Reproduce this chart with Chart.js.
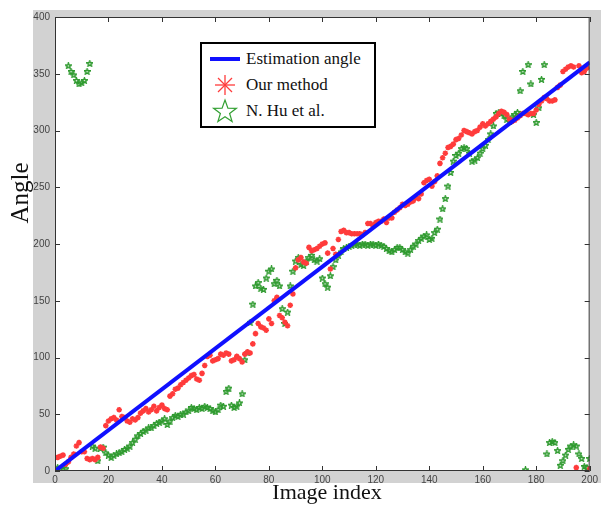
<!DOCTYPE html>
<html>
<head>
<meta charset="utf-8">
<script src="https://cdn.jsdelivr.net/npm/chart.js@4.4.0/dist/chart.umd.min.js"></script>
<style>
body { margin: 0; background: #fff; }
#wrap { position: relative; width: 601px; height: 512px; overflow: hidden; }
#frame { position: absolute; left: 33px; top: 10px; width: 568px; height: 473px; background: #d2d2d2; }
#chart { position: absolute; left: 0; top: 0; }
.ttl { position: absolute; font-family: "Liberation Serif", "Times New Roman", serif; color: #111; text-align: center; white-space: nowrap; }
#ytitle { left: -30px; top: 178px; width: 100px; height: 30px; line-height: 30px; font-size: 25px; transform: rotate(-90deg); }
#xtitle { left: 227px; top: 478px; width: 200px; height: 28px; line-height: 28px; font-size: 22px; }
#legend { position: absolute; left: 200px; top: 42px; width: 172px; height: 82px; border: 2px solid #000; background: #fff;
  font-family: "Liberation Serif", "Times New Roman", serif; font-size: 17px; color: #111; }
#legend div { position: absolute; left: 0; width: 172px; height: 26px; line-height: 26px; white-space: nowrap; }
#legend svg { position: absolute; left: 6px; top: 0; }
#legend span { position: absolute; left: 44px; top: 0; white-space: nowrap; }
</style>
</head>
<body>
<div id="wrap">
  <div id="frame"></div>
  <canvas id="chart" width="601" height="512"></canvas>
  <div class="ttl" id="ytitle">Angle</div>
  <div class="ttl" id="xtitle">Image index</div>
  <div id="legend">
    <div style="top:2px"><svg width="34" height="26"><line x1="2" y1="13" x2="32" y2="13" stroke="#1010ff" stroke-width="4"/></svg><span>Estimation angle</span></div>
    <div style="top:28px"><svg width="34" height="26"><g stroke="#ff3b3b" stroke-width="1.3"><line x1="17" y1="3" x2="17" y2="23"/><line x1="7" y1="13" x2="27" y2="13"/><line x1="10" y1="6" x2="24" y2="20"/><line x1="24" y1="6" x2="10" y2="20"/></g></svg><span>Our method</span></div>
    <div style="top:54px"><svg width="34" height="26"><polygon points="17,2 19.9,10.2 28.4,10.3 21.6,15.5 24.1,23.6 17,18.7 9.9,23.6 12.4,15.5 5.6,10.3 14.1,10.2" fill="none" stroke="#33a033" stroke-width="1.2"/></svg><span>N. Hu et al.</span></div>
  </div>
</div>
<script>
// image index 1..200
const imageIndex = Array.from({ length: 200 }, (_, i) => i + 1);

// blue reference line
const estIndex = [0, 200];
const estAngle = [0, 360];

// Our method (red)
const ourAngle = [
  12, 13, 14, 6, 8, 12, 15, 22, 25, 17,
  17, 11, 10, 11, 10, 12, 21, 20, 40, 44,
  46, 47, 45, 54, 48, 47, 44, 43, 46, 45,
  47, 51, 53, 55, 52, 54, 57, 53, 56, 58,
  55, 54, 66, 68, 72, 73, 76, 78, 80, 82,
  84, 85, 81, 80, 86, 93, 101, 102, 97, 98,
  99, 103, 102, 104, 103, 97, 98, 101, 99, 96,
  103, 105, 104, 112, 121, 130, 127, 126, 124, 134,
  130, 150, 153, 137, 135, 131, 128, 146, 156, 179,
  186, 188, 184, 183, 197, 194, 195, 196, 198, 200,
  201, 192, 178, 196, 191, 204, 211, 212, 210, 210,
  209, 209, 209, 209, 208, 210, 218, 218, 216, 219,
  220, 220, 222, 219, 223, 223, 228, 230, 232, 235,
  234, 235, 237, 238, 241, 240, 244, 254, 256, 257,
  251, 255, 260, 271, 276, 280, 285, 286, 288, 292,
  293, 296, 300, 299, 298, 297, 299, 300, 303, 306,
  304, 306, 308, 310, 312, 315, 317, 316, 314, 310,
  308, 309, 311, 313, 315, 315, 314, 315, 315, 318,
  323, 326, 329, 328, 326, 326, 327, 338, 340, 352,
  354, 356, 357, 356, 3, 357, 351, 352, 355, 2
];

// N. Hu et al. (green)
const huAngle = [
  3, 2, 4, 2, 357, 352, 349, 344, 341, 342,
  344, 352, 359, 22, 20, 9, 20, 21, 16, 14,
  12, 14, 15, 16, 17, 19, 20, 22, 25, 28,
  31, 33, 35, 36, 38, 38, 40, 42, 43, 44,
  46, 41, 44, 47, 49, 48, 50, 50, 52, 53,
  56, 55, 54, 56, 55, 57, 56, 55, 53, 52,
  54, 58, 57, 70, 73, 58, 56, 57, 60, 68,
  98, 104, 131, 147, 163, 166, 161, 160, 170, 176,
  178, 165, 168, 163, 143, 130, 140, 163, 176, 185,
  188, 182, 181, 185, 188, 190, 186, 185, 187, 170,
  165, 162, 172, 180, 186, 190, 193, 196, 197, 198,
  199, 200, 200, 199, 200, 200, 199, 200, 200, 199,
  200, 199, 198, 196, 194, 193, 195, 197, 197, 195,
  193, 192, 195, 198, 200, 203, 205, 207, 208, 204,
  205, 210, 213, 222, 231, 240, 251, 263, 273, 278,
  280, 284, 285, 284, 280, 273, 274, 276, 280, 284,
  287, 292, 297, 304, 315, 316, 315, 313, 310, 308,
  312, 314, 316, 335, 352, 1, 358, 341, 314, 307,
  320, 345, 358, 15, 25, 26, 25, 18, 5, 9,
  14, 19, 22, 23, 22, 15, 11, 4, 3, 11
];

const xTicks = [0, 20, 40, 60, 80, 100, 120, 140, 160, 180, 200];
const yTicks = [0, 50, 100, 150, 200, 250, 300, 350, 400];

// small outlined pentagram used as point marker
function starImage(color) {
  const c = document.createElement('canvas');
  c.width = 7; c.height = 7;
  const g = c.getContext('2d');
  g.strokeStyle = color;
  g.lineWidth = 1.4;
  g.beginPath();
  for (let k = 0; k < 10; k++) {
    const r = k % 2 ? 1.3 : 3;
    const a = -Math.PI / 2 + k * Math.PI / 5;
    const px = 3.5 + r * Math.cos(a), py = 3.7 + r * Math.sin(a);
    k ? g.lineTo(px, py) : g.moveTo(px, py);
  }
  g.closePath();
  g.stroke();
  return c;
}

const framePlugin = {
  id: 'framePlugin',
  beforeDraw(chart) {
    const a = chart.chartArea, ctx = chart.ctx;
    ctx.save();
    ctx.fillStyle = '#fff';
    ctx.fillRect(a.left, a.top, a.right - a.left, a.bottom - a.top);
    ctx.restore();
  },
  afterDraw(chart) {
    const a = chart.chartArea, ctx = chart.ctx;
    const xs = chart.scales.x, ys = chart.scales.y;
    ctx.save();
    ctx.strokeStyle = '#333';
    ctx.lineWidth = 1;
    ctx.strokeRect(a.left + 0.5, a.top + 0.5, a.right - a.left - 1, a.bottom - a.top - 1);
    ctx.beginPath();
    xTicks.forEach(v => {
      const p = Math.round(xs.getPixelForValue(v)) + 0.5;
      ctx.moveTo(p, a.bottom); ctx.lineTo(p, a.bottom - 5);
      ctx.moveTo(p, a.top); ctx.lineTo(p, a.top + 5);
    });
    yTicks.forEach(v => {
      const p = Math.round(ys.getPixelForValue(v)) + 0.5;
      ctx.moveTo(a.left, p); ctx.lineTo(a.left + 5, p);
      ctx.moveTo(a.right, p); ctx.lineTo(a.right - 5, p);
    });
    ctx.stroke();
    ctx.restore();
  }
};

new Chart(document.getElementById('chart'), {
  type: 'line',
  data: {
    datasets: [
      {
        label: 'Estimation angle',
        data: estIndex.map((x, i) => ({ x: x, y: estAngle[i] })),
        borderColor: '#1010ff',
        borderWidth: 4,
        pointRadius: 0,
        order: 0
      },
      {
        label: 'Our method',
        data: imageIndex.map((x, i) => ({ x: x, y: ourAngle[i] })),
        showLine: false,
        pointStyle: 'star',
        pointRadius: 2.8,
        borderColor: '#ff3b3b',
        backgroundColor: '#ff3b3b',
        pointBorderWidth: 1.6,
        order: 1
      },
      {
        label: 'N. Hu et al.',
        data: imageIndex.map((x, i) => ({ x: x, y: huAngle[i] })),
        showLine: false,
        pointStyle: starImage('#2e9a2e'),
        pointRadius: 3,
        borderColor: '#2e9a2e',
        order: 2
      }
    ]
  },
  options: {
    responsive: false,
    animation: false,
    layout: { padding: { left: 0, right: 7, top: 17, bottom: 0 } },
    plugins: { legend: { display: false }, tooltip: { enabled: false } },
    scales: {
      x: {
        type: 'linear',
        min: 0, max: 200,
        afterBuildTicks: s => { s.ticks = xTicks.map(v => ({ value: v })); },
        afterFit: s => { s.height = 41; },
        grid: { display: false, drawTicks: false },
        border: { display: false },
        ticks: { padding: 3, color: '#444', maxRotation: 0, font: { family: 'Liberation Sans', size: 10 } }
      },
      y: {
        min: 0, max: 400,
        afterBuildTicks: s => { s.ticks = yTicks.map(v => ({ value: v })); },
        afterFit: s => { s.width = 55; },
        grid: { display: false, drawTicks: false },
        border: { display: false },
        ticks: { padding: 5, color: '#444', font: { family: 'Liberation Sans', size: 10 } }
      }
    }
  },
  plugins: [framePlugin]
});
</script>
</body>
</html>
